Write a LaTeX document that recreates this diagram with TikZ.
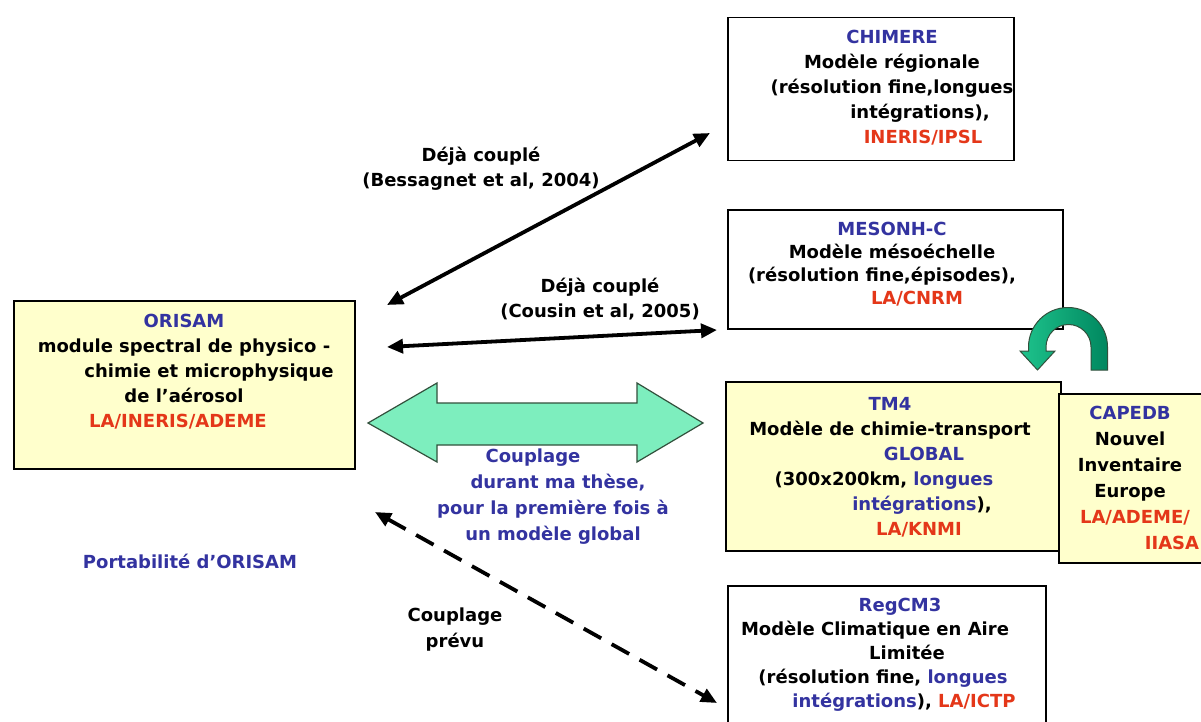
\documentclass[tikz,border=0pt]{standalone}
\usepackage{fontspec}
\setmainfont{DejaVu Sans}
\usetikzlibrary{arrows.meta}
\definecolor{tblue}{RGB}{51,51,160}
\definecolor{tred}{RGB}{228,55,25}
\definecolor{byel}{RGB}{255,255,204}
\definecolor{mint}{RGB}{125,238,190}
\definecolor{mintline}{RGB}{50,80,60}
\definecolor{gleft}{RGB}{30,195,140}
\definecolor{gright}{RGB}{0,135,95}
\begin{document}
\begin{tikzpicture}[x=1pt,y=-1pt,
  box/.style={draw=black, line width=1.5pt, inner sep=0pt, anchor=north west},
  ybox/.style={box, fill=byel},
  txt/.style={font=\fontsize{18}{25}\selectfont\bfseries, align=center, inner sep=0pt},
  conn/.style={line width=3.8pt, {Triangle[length=16pt,width=14pt]}-{Triangle[length=16pt,width=14pt]}},
  dconn/.style={conn, dash pattern=on 20pt off 12pt}
 ]
\clip (0,0) rectangle (1201,722);
\fill[white] (0,0) rectangle (1201,722);

% boxes
\node[box, minimum width=286pt, minimum height=143pt] (chimere) at (727,17) {};
\node[box, minimum width=335pt, minimum height=119pt] (mesonh) at (727,209) {};
\node[ybox, minimum width=341pt, minimum height=168pt] (orisam) at (13,300) {};
\node[ybox, minimum width=335pt, minimum height=169pt] (tm4) at (725,381) {};
\node[ybox, minimum width=157pt, minimum height=169pt] (capedb) at (1058,393) {};
\node[box, minimum width=318pt, minimum height=155pt] (regcm) at (727,585) {};

% box texts
\node[txt] (chimeretxt) at (892,88) {\textcolor{tblue}{CHIMERE}\\ Modèle régionale\\ (résolution fine,longues\\ \hspace*{56pt}intégrations),\\ \hspace*{62pt}\textcolor{tred}{INERIS/IPSL}};
\node[txt, font=\fontsize{18}{23}\selectfont\bfseries] (mesonhtxt) at (892,264) {\textcolor{tblue}{MESONH-C}\\ Modèle mésoéchelle\\ \hspace*{-20pt}(résolution fine,épisodes),\\ \hspace*{50pt}\textcolor{tred}{LA/CNRM}};
\node[txt] (orisamtxt) at (184,372) {\textcolor{tblue}{ORISAM}\\ module spectral de physico -\\ \hspace*{50pt}chimie et microphysique\\ de l'aérosol\\ \hspace*{-12pt}\textcolor{tred}{LA/INERIS/ADEME}};
\node[txt] (tm4txt) at (890,467) {\textcolor{tblue}{TM4}\\ Modèle de chimie-transport\\ \hspace*{68pt}\textcolor{tblue}{GLOBAL}\\ \hspace*{-12pt}(300x200km, \textcolor{tblue}{longues}\\ \hspace*{64pt}\textcolor{tblue}{intégrations}),\\ \hspace*{58pt}\textcolor{tred}{LA/KNMI}};
\node[txt, font=\fontsize{18}{26}\selectfont\bfseries] (capedbtxt) at (1130,478) {\textcolor{tblue}{CAPEDB}\\ Nouvel\\ Inventaire\\ Europe\\ \hspace*{10pt}\textcolor{tred}{LA/ADEME/}\\ \hspace*{84pt}\textcolor{tred}{IIASA}};
\node[txt, font=\fontsize{18}{24}\selectfont\bfseries] (regcmtxt) at (890,655) {\hspace*{20pt}\textcolor{tblue}{RegCM3}\\ \hspace*{-30pt}Modèle Climatique en Aire\\ \hspace*{34pt}Limitée\\ \hspace*{-14pt}(résolution fine, \textcolor{tblue}{longues}\\ \hspace*{28pt}\textcolor{tblue}{intégrations}), \textcolor{tred}{LA/ICTP}};

% curved green arrow
\shade[left color=gleft, right color=gright, draw=mintline, line width=1pt]
  (1107.5,370) -- (1107.5,347) arc[start angle=0,end angle=180,radius=39.5pt]
  -- (1028.5,351) -- (1020,351) -- (1037.5,370) -- (1055,351) -- (1046,351)
  -- (1046,347) arc[start angle=180,end angle=0,radius=22.5pt] -- (1091,370) -- cycle;

% big double arrow
\draw[fill=mint, draw=mintline, line width=1.2pt]
  (368,423) -- (437,383) -- (437,403) -- (637,403) -- (637,383) -- (703,423)
  -- (637,462) -- (637,445) -- (437,445) -- (437,462) -- cycle;

% connectors
\coordinate (a1l) at (387,305);
\coordinate (a1r) at (710,133);
\coordinate (a2l) at (387,347);
\coordinate (a2r) at (717,330);
\coordinate (a3l) at (375,512);
\coordinate (a3r) at (717,703);
\draw[conn] (a1l) -- (a1r);
\draw[conn] (a2l) -- (a2r);
\draw[dconn] (a3l) -- (a3r);

% labels
\node[txt] (lab1) at (481,169) {Déjà couplé\\ (Bessagnet et al, 2004)};
\node[txt] (lab2) at (600,299) {Déjà couplé\\ (Cousin et al, 2005)};
\node[txt, text=tblue, font=\fontsize{18}{26}\selectfont\bfseries] (lab3) at (553,497) {\hspace*{-40pt}Couplage\\ \hspace*{10pt}durant ma thèse,\\ pour la première fois à\\ un modèle global};
\node[txt, font=\fontsize{18}{26}\selectfont\bfseries] (lab4) at (455,630) {Couplage\\ prévu};
\node[txt, text=tblue] (lab5) at (190,561) {Portabilité d'ORISAM};
\end{tikzpicture}
\end{document}
